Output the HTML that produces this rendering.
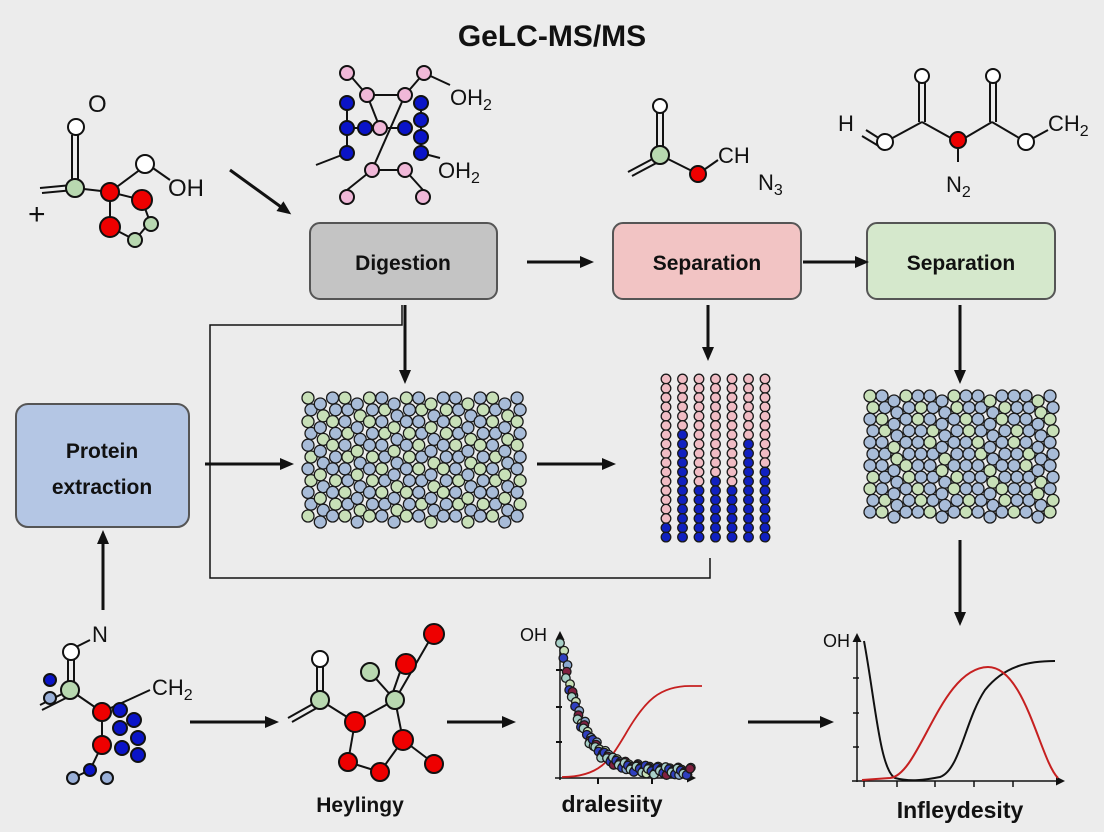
<!DOCTYPE html>
<html><head><meta charset="utf-8"><style>
body{margin:0;background:#ececec;}
svg{display:block;font-family:"Liberation Sans",sans-serif;}
.b{stroke:#111;stroke-width:2;}
</style></head><body>
<svg id="s" width="1104" height="832" viewBox="0 0 1104 832" xmlns="http://www.w3.org/2000/svg">
<defs><marker id="a" markerWidth="14" markerHeight="14" refX="10" refY="7" orient="auto" markerUnits="userSpaceOnUse"><path d="M0,1 L14,7 L0,13 z" fill="#111"/></marker>
<marker id="s2" markerWidth="9" markerHeight="9" refX="6" refY="4.5" orient="auto" markerUnits="userSpaceOnUse"><path d="M0,0 L9,4.5 L0,9 z" fill="#111"/></marker></defs>
<rect width="1104" height="832" fill="#ececec"/>
<text x="552" y="46" text-anchor="middle" font-size="30" font-weight="bold" fill="#111">GeLC-MS/MS</text>

<g stroke="#555" stroke-width="2">
<rect x="310" y="223" width="187" height="76" rx="10" fill="#c4c4c4"/>
<rect x="613" y="223" width="188" height="76" rx="10" fill="#f2c4c4"/>
<rect x="867" y="223" width="188" height="76" rx="10" fill="#d5e8cc"/>
<rect x="16" y="404" width="173" height="123" rx="12" fill="#b4c6e4"/>
</g>
<g font-size="21" font-weight="bold" fill="#111" text-anchor="middle">
<text x="403" y="270">Digestion</text>
<text x="707" y="270">Separation</text>
<text x="961" y="270">Separation</text>
<text x="102" y="458">Protein</text>
<text x="102" y="494">extraction</text>
</g>

<g stroke="#111" stroke-width="3" fill="none" marker-end="url(#a)">
<line x1="230" y1="170" x2="288" y2="212"/>
<line x1="527" y1="262" x2="590" y2="262"/>
<line x1="803" y1="262" x2="865" y2="262"/>
<line x1="405" y1="305" x2="405" y2="380"/>
<line x1="708" y1="305" x2="708" y2="357"/>
<line x1="960" y1="305" x2="960" y2="380"/>
<line x1="205" y1="464" x2="290" y2="464"/>
<line x1="537" y1="464" x2="612" y2="464"/>
<line x1="960" y1="540" x2="960" y2="622"/>
<line x1="103" y1="610" x2="103" y2="534"/>
<line x1="190" y1="722" x2="275" y2="722"/>
<line x1="447" y1="722" x2="512" y2="722"/>
<line x1="748" y1="722" x2="830" y2="722"/>
</g>
<polyline points="402,305 402,325 210,325 210,578 710,578 710,558" fill="none" stroke="#111" stroke-width="1.5"/>

<g id="grids"></g>

<g class="b" fill="none">
<line x1="72" y1="135" x2="72" y2="185"/><line x1="78" y1="135" x2="78" y2="185"/>
<line x1="72" y1="185" x2="40" y2="188"/><line x1="74" y1="190" x2="42" y2="193"/>
<line x1="75" y1="188" x2="110" y2="192"/><line x1="110" y1="192" x2="145" y2="166"/>
<line x1="110" y1="192" x2="110" y2="227"/><line x1="110" y1="192" x2="142" y2="200"/>
<line x1="142" y1="200" x2="150" y2="222"/><line x1="110" y1="227" x2="135" y2="240"/>
<line x1="135" y1="240" x2="150" y2="222"/><line x1="150" y1="166" x2="170" y2="180"/>
</g>
<g class="b">
<circle cx="76" cy="127" r="8" fill="#fff"/><circle cx="75" cy="188" r="9" fill="#b8d8b0"/>
<circle cx="145" cy="164" r="9" fill="#fff"/><circle cx="110" cy="192" r="9" fill="#e00"/>
<circle cx="142" cy="200" r="10" fill="#e00"/><circle cx="110" cy="227" r="10" fill="#e00"/>
<circle cx="151" cy="224" r="7" fill="#b8d8b0"/><circle cx="135" cy="240" r="7" fill="#b8d8b0"/>
</g>
<g font-size="24" fill="#111"><text x="88" y="112">O</text><text x="168" y="196">OH</text><text x="28" y="224" font-size="30">+</text></g>

<g class="b" fill="none">
<line x1="348" y1="73" x2="367" y2="95"/><line x1="367" y1="95" x2="405" y2="95"/><line x1="405" y1="95" x2="424" y2="73"/>
<line x1="424" y1="73" x2="450" y2="85"/><line x1="367" y1="95" x2="380" y2="128"/><line x1="405" y1="95" x2="372" y2="170"/>
<line x1="347" y1="103" x2="347" y2="153"/><line x1="347" y1="153" x2="316" y2="165"/><line x1="347" y1="128" x2="405" y2="128"/>
<line x1="421" y1="103" x2="421" y2="153"/><line x1="372" y1="170" x2="405" y2="170"/><line x1="372" y1="170" x2="347" y2="190"/>
<line x1="405" y1="170" x2="423" y2="190"/><line x1="421" y1="153" x2="440" y2="158"/>
</g>
<g class="b" stroke-width="1.5">
<circle cx="347" cy="73" r="7" fill="#f0b8d8"/><circle cx="424" cy="73" r="7" fill="#f0b8d8"/>
<circle cx="367" cy="95" r="7" fill="#f0b8d8"/><circle cx="405" cy="95" r="7" fill="#f0b8d8"/>
<circle cx="347" cy="103" r="7" fill="#0a14c8"/><circle cx="347" cy="128" r="7" fill="#0a14c8"/><circle cx="347" cy="153" r="7" fill="#0a14c8"/>
<circle cx="365" cy="128" r="7" fill="#0a14c8"/><circle cx="380" cy="128" r="7" fill="#f0b8d8"/><circle cx="405" cy="128" r="7" fill="#0a14c8"/>
<circle cx="421" cy="103" r="7" fill="#0a14c8"/><circle cx="421" cy="120" r="7" fill="#0a14c8"/><circle cx="421" cy="137" r="7" fill="#0a14c8"/><circle cx="421" cy="153" r="7" fill="#0a14c8"/>
<circle cx="372" cy="170" r="7" fill="#f0b8d8"/><circle cx="405" cy="170" r="7" fill="#f0b8d8"/>
<circle cx="347" cy="197" r="7" fill="#f0b8d8"/><circle cx="423" cy="197" r="7" fill="#f0b8d8"/>
</g>
<g font-size="22" fill="#111"><text x="450" y="105">OH<tspan font-size="16" dy="5">2</tspan></text><text x="438" y="178">OH<tspan font-size="16" dy="5">2</tspan></text></g>

<g class="b" fill="none">
<line x1="657" y1="112" x2="657" y2="150"/><line x1="663" y1="112" x2="663" y2="150"/>
<line x1="660" y1="155" x2="628" y2="172"/><line x1="662" y1="160" x2="632" y2="176"/>
<line x1="660" y1="155" x2="698" y2="174"/><line x1="698" y1="174" x2="718" y2="160"/>
</g>
<g class="b"><circle cx="660" cy="106" r="7" fill="#fff"/><circle cx="660" cy="155" r="9" fill="#b8d8b0"/><circle cx="698" cy="174" r="8" fill="#e00"/></g>
<g font-size="22" fill="#111"><text x="718" y="163">CH</text><text x="758" y="190">N<tspan font-size="16" dy="5">3</tspan></text></g>

<g class="b" fill="none">
<line x1="866" y1="130" x2="885" y2="142"/><line x1="862" y1="136" x2="882" y2="148"/>
<line x1="885" y1="142" x2="922" y2="122"/><line x1="922" y1="122" x2="958" y2="142"/><line x1="958" y1="142" x2="992" y2="122"/><line x1="992" y1="122" x2="1026" y2="142"/>
<line x1="919" y1="82" x2="919" y2="122"/><line x1="925" y1="82" x2="925" y2="122"/>
<line x1="990" y1="82" x2="990" y2="122"/><line x1="996" y1="82" x2="996" y2="122"/>
<line x1="958" y1="142" x2="958" y2="162"/><line x1="1026" y1="142" x2="1048" y2="130"/>
</g>
<g class="b"><circle cx="922" cy="76" r="7" fill="#fff"/><circle cx="993" cy="76" r="7" fill="#fff"/><circle cx="885" cy="142" r="8" fill="#fff"/><circle cx="958" cy="140" r="8" fill="#e00"/><circle cx="1026" cy="142" r="8" fill="#fff"/></g>
<g font-size="22" fill="#111"><text x="838" y="131">H</text><text x="1048" y="131">CH<tspan font-size="16" dy="5">2</tspan></text><text x="946" y="192">N<tspan font-size="16" dy="5">2</tspan></text></g>

<g class="b" fill="none">
<line x1="70" y1="650" x2="90" y2="640"/><line x1="68" y1="660" x2="68" y2="690"/><line x1="74" y1="660" x2="74" y2="690"/>
<line x1="70" y1="690" x2="40" y2="705"/><line x1="72" y1="695" x2="42" y2="710"/>
<line x1="70" y1="690" x2="102" y2="712"/><line x1="102" y1="712" x2="150" y2="690"/>
<line x1="102" y1="712" x2="102" y2="745"/><line x1="102" y1="745" x2="90" y2="770"/><line x1="90" y1="770" x2="73" y2="778"/>
</g>
<g class="b" stroke-width="1.5">
<circle cx="71" cy="652" r="8" fill="#fff"/><circle cx="70" cy="690" r="9" fill="#b8d8b0"/>
<circle cx="50" cy="680" r="6" fill="#0a14c8"/><circle cx="50" cy="698" r="6" fill="#9ab0d8"/>
<circle cx="102" cy="712" r="9" fill="#e00"/><circle cx="120" cy="710" r="7" fill="#0a14c8"/><circle cx="134" cy="720" r="7" fill="#0a14c8"/>
<circle cx="120" cy="728" r="7" fill="#0a14c8"/><circle cx="138" cy="738" r="7" fill="#0a14c8"/><circle cx="122" cy="748" r="7" fill="#0a14c8"/><circle cx="138" cy="755" r="7" fill="#0a14c8"/>
<circle cx="102" cy="745" r="9" fill="#e00"/><circle cx="90" cy="770" r="6" fill="#0a14c8"/><circle cx="73" cy="778" r="6" fill="#9ab0d8"/><circle cx="107" cy="778" r="6" fill="#9ab0d8"/>
</g>
<g font-size="22" fill="#111"><text x="92" y="642">N</text><text x="152" y="695">CH<tspan font-size="16" dy="5">2</tspan></text></g>

<g class="b" fill="none">
<line x1="317" y1="665" x2="317" y2="700"/><line x1="323" y1="665" x2="323" y2="700"/>
<line x1="320" y1="700" x2="288" y2="718"/><line x1="322" y1="705" x2="292" y2="722"/>
<line x1="320" y1="700" x2="355" y2="722"/><line x1="355" y1="722" x2="348" y2="762"/><line x1="348" y1="762" x2="380" y2="772"/>
<line x1="355" y1="722" x2="395" y2="700"/><line x1="395" y1="700" x2="403" y2="740"/><line x1="403" y1="740" x2="380" y2="772"/>
<line x1="395" y1="700" x2="432" y2="636"/><line x1="395" y1="700" x2="370" y2="672"/><line x1="403" y1="740" x2="432" y2="762"/>
<line x1="392" y1="695" x2="400" y2="672"/>
</g>
<g class="b">
<circle cx="320" cy="659" r="8" fill="#fff"/><circle cx="320" cy="700" r="9" fill="#b8d8b0"/>
<circle cx="355" cy="722" r="10" fill="#e00"/><circle cx="348" cy="762" r="9" fill="#e00"/><circle cx="380" cy="772" r="9" fill="#e00"/>
<circle cx="403" cy="740" r="10" fill="#e00"/><circle cx="395" cy="700" r="9" fill="#b8d8b0"/><circle cx="370" cy="672" r="9" fill="#b8d8b0"/>
<circle cx="406" cy="664" r="10" fill="#e00"/><circle cx="434" cy="634" r="10" fill="#e00"/><circle cx="434" cy="764" r="9" fill="#e00"/>
</g>
<text x="360" y="812" font-size="21" font-weight="bold" text-anchor="middle" fill="#111">Heylingy</text>

<g stroke="#111" stroke-width="2" fill="none">
<line x1="560" y1="780" x2="560" y2="634" marker-end="url(#s2)" stroke-width="1.5"/>
<line x1="555" y1="778" x2="693" y2="778" marker-end="url(#s2)" stroke-width="1.5"/>
<line x1="556" y1="670" x2="562" y2="670"/><line x1="556" y1="707" x2="562" y2="707"/><line x1="556" y1="742" x2="562" y2="742"/>
<line x1="598" y1="778" x2="598" y2="784"/><line x1="652" y1="778" x2="652" y2="784"/>
</g>
<path d="M562,777 C600,777 610,760 625,735 C645,700 660,686 690,686 L702,686" fill="none" stroke="#c62020" stroke-width="1.8"/>
<g id="dots"></g>
<text x="520" y="641" font-size="18" fill="#111">OH</text>
<text x="612" y="812" font-size="23" font-weight="bold" text-anchor="middle" fill="#111">dralesiity</text>

<g stroke="#111" stroke-width="1.5" fill="none">
<line x1="857" y1="782" x2="857" y2="636" marker-end="url(#s2)"/>
<line x1="852" y1="781" x2="1062" y2="781" marker-end="url(#s2)"/>
<line x1="853" y1="678" x2="859" y2="678"/><line x1="853" y1="713" x2="859" y2="713"/><line x1="853" y1="747" x2="859" y2="747"/>
<line x1="864" y1="781" x2="864" y2="787"/><line x1="897" y1="781" x2="897" y2="787"/><line x1="935" y1="781" x2="935" y2="787"/><line x1="974" y1="781" x2="974" y2="787"/><line x1="1013" y1="781" x2="1013" y2="787"/>
</g>
<path d="M864,641 C875,700 880,770 895,778 C910,782 925,780 940,777 C960,770 965,720 985,690 C1005,665 1030,661 1055,661" fill="none" stroke="#111" stroke-width="2"/>
<path d="M862,780 L890,778 C920,775 940,668 988,667 C1025,667 1040,760 1058,778" fill="none" stroke="#c62020" stroke-width="2"/>
<text x="823" y="647" font-size="18" fill="#111">OH</text>
<text x="960" y="818" font-size="23" font-weight="bold" text-anchor="middle" fill="#111">Infleydesity</text>
</svg>
<script>
var NS="http://www.w3.org/2000/svg",g=document.getElementById("grids");
function c(x,y,r,f,p){var e=document.createElementNS(NS,"circle");e.setAttribute("cx",x);e.setAttribute("cy",y);e.setAttribute("r",r);e.setAttribute("fill",f);e.setAttribute("stroke","#1a1a1a");e.setAttribute("stroke-width","1.3");(p||g).appendChild(e);}
var B="#a8bcd8",G="#c8e0b8",P="#f0bcc4",D="#1020c0";
for(var i=0;i<18;i++)for(var j=0;j<12;j++){var x=308+i*12.3+(j%2?3:0),y=398+j*11.8+(i%3==1?6:0);if(y>525)continue;c(x,y,6,((i*7+j*3)%5<2)?G:B);}
for(var i=0;i<7;i++){var th=[16,6,12,11,12,7,10][i];for(var j=0;j<18;j++){c(666+i*16.5,379+j*9.3,4.8,j<th?P:D);}}
for(var i=0;i<16;i++)for(var j=0;j<12;j++){var x=870+i*12+(j%2?3:0),y=396+j*11.6+(i%4==2?5:0);if(y>522)continue;c(x,y,6,((i*5+j)%7<2)?G:B);}
var d=document.getElementById("dots"),cols=["#a8d0c8","#c8e0b8","#3040c0","#8aa8d0","#802040"];
for(var k=0;k<110;k++){var t=k/109;var x=562+t*128;var y=778-125*Math.exp(-t*6)-6+((k*37)%9)-4;c(x+((k*13)%5)-2,Math.min(y,775),4.3,cols[k%5],d);}
</script>
</body></html>
